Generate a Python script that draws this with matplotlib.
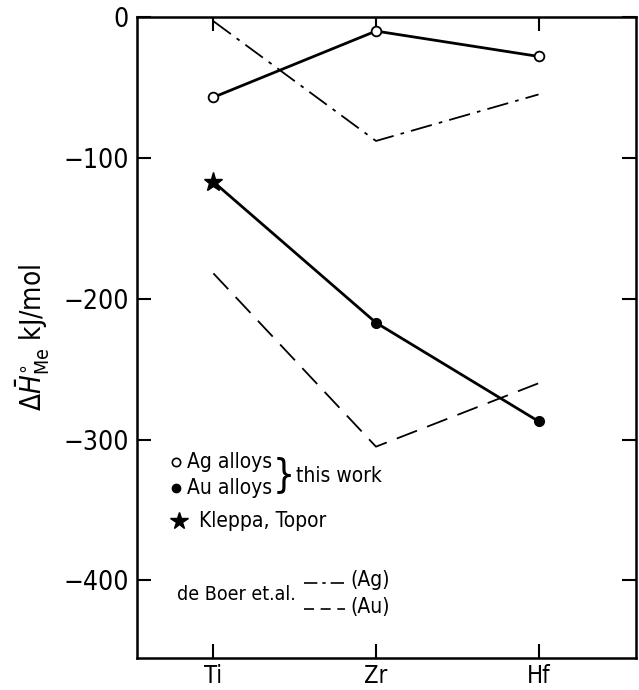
import numpy as np
import matplotlib.pyplot as plt

# metals on the x axis
metals = ['Ti', 'Zr', 'Hf']
xpos = [1, 2, 3]

# partial enthalpy, kJ/mol
ag_alloys = [-57, -10, -28]          # this work, Ag alloys
au_alloys = [-117, -217, -287]       # Au alloys line (Ti value from Kleppa, Topor)
au_measured = [-217, -287]           # this work, Au alloys (Zr, Hf)
kleppa_ti = -117                     # Kleppa, Topor
deboer_ag = [-3, -88, -55]           # de Boer et al. (Ag)
deboer_au = [-182, -305, -260]       # de Boer et al. (Au)

plt.rcParams['font.family'] = ['Liberation Sans Narrow', 'DejaVu Sans']
plt.rcParams['font.stretch'] = 'condensed'
plt.rcParams['mathtext.fontset'] = 'dejavusans'

fig = plt.figure(figsize=(6.39, 6.9), dpi=100)
ax = fig.add_axes([0.2144, 0.0464, 0.781, 0.929])

ax.plot(xpos, ag_alloys, '-', color='k', lw=2.0, zorder=2)
ax.plot(xpos, ag_alloys, 'o', mfc='white', mec='k', mew=1.3, ms=7, zorder=3)
ax.plot(xpos, au_alloys, '-', color='k', lw=2.0, zorder=2)
ax.plot(xpos[1:], au_measured, 'o', color='k', ms=7, zorder=3)
ax.plot([xpos[0]], [kleppa_ti], '*', color='k', ms=14, zorder=3)
ax.plot(xpos, deboer_ag, color='k', lw=1.3, dashes=[12, 4, 2, 4])
ax.plot(xpos, deboer_au, color='k', lw=1.3, dashes=[12, 6])

ax.set_xlim(0.53, 3.6)
ax.set_ylim(-455, 0)
ax.set_xticks(xpos)
ax.set_xticklabels(metals)
ax.set_yticks([0, -100, -200, -300, -400])
ax.set_yticklabels(['0', '\u2212100', '\u2212200', '\u2212300', '\u2212400'])
ax.tick_params(direction='in', length=10, width=1.5, labelsize=19,
               top=True, right=True, pad=6)
ax.tick_params(axis='x', pad=4, labelsize=17)
for sp in ax.spines.values():
    sp.set_linewidth(1.8)

ax.set_ylabel(r'$\Delta\bar{H}^{\!\circ}_{\mathrm{Me}}$ kJ/mol', fontsize=20, labelpad=8)

# hand-made key
fs = 15
ax.plot([0.77], [-316], 'o', mfc='white', mec='k', mew=1.2, ms=6)
ax.text(0.84, -316, 'Ag alloys', fontsize=fs, va='center')
ax.plot([0.77], [-334], 'o', color='k', ms=6)
ax.text(0.84, -334, 'Au alloys', fontsize=fs, va='center')
ax.text(1.365, -325, '}', fontsize=28, va='center', ha='left')
ax.text(1.51, -326, 'this work', fontsize=fs, va='center')
ax.plot([0.79], [-358], '*', color='k', ms=13)
ax.text(0.91, -358, 'Kleppa, Topor', fontsize=fs, va='center')
ax.text(0.775, -410, 'de Boer et.al.', fontsize=fs - 1, va='center')
ax.plot([1.56, 1.81], [-402, -402], color='k', lw=1.2, dashes=[8, 3, 2, 3])
ax.text(1.84, -400, '(Ag)', fontsize=fs, va='center')
ax.plot([1.56, 1.81], [-420, -420], color='k', lw=1.2, dashes=[6, 4])
ax.text(1.84, -419, '(Au)', fontsize=fs, va='center')

fig.savefig('out.png', dpi=100)
